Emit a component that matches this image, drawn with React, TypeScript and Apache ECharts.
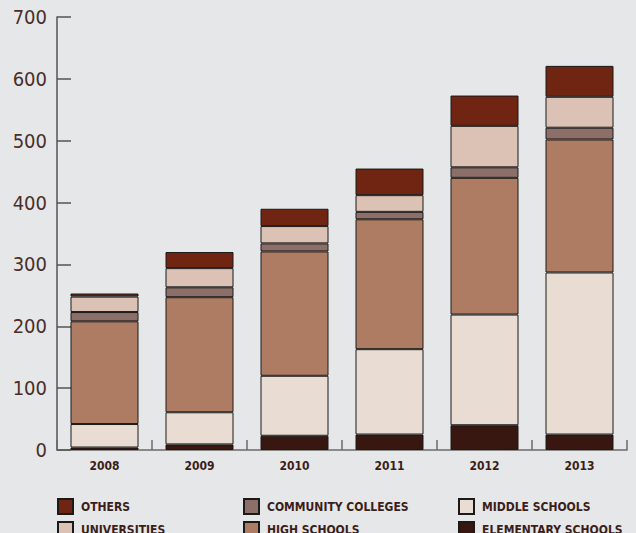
import React, { useEffect, useRef } from "react";
import * as echarts from "echarts";

const years = ["2008", "2009", "2010", "2011", "2012", "2013"];
const elementarySchools = [4, 9, 23, 25, 40, 25];
const middleSchools = [38, 52, 97, 138, 179, 262];
const highSchools = [166, 186, 201, 210, 221, 215];
const communityColleges = [15, 16, 13, 12, 17, 19];
const universities = [25, 31, 28, 27, 67, 50];
const others = [5, 26, 28, 43, 49, 50];
const yTicks = [0, 100, 200, 300, 400, 500, 600, 700];

const seriesDefs = [
  { name: "ELEMENTARY SCHOOLS", data: elementarySchools, color: "#37170f" },
  { name: "MIDDLE SCHOOLS", data: middleSchools, color: "#e8dcd3" },
  { name: "HIGH SCHOOLS", data: highSchools, color: "#ad7c63" },
  { name: "COMMUNITY COLLEGES", data: communityColleges, color: "#8b6f68" },
  { name: "UNIVERSITIES", data: universities, color: "#dbc2b4" },
  { name: "OTHERS", data: others, color: "#6f2512" },
];

const legendLayout = [
  { name: "OTHERS", left: 57, top: 498 },
  { name: "COMMUNITY COLLEGES", left: 243, top: 498 },
  { name: "MIDDLE SCHOOLS", left: 458, top: 498 },
  { name: "UNIVERSITIES", left: 57, top: 521 },
  { name: "HIGH SCHOOLS", left: 243, top: 521 },
  { name: "ELEMENTARY SCHOOLS", left: 458, top: 521 },
];

export default function App() {
  const ref = useRef<HTMLDivElement>(null);
  useEffect(() => {
    document.body.style.margin = "0";
    const chart = echarts.init(ref.current!, undefined, { renderer: "svg" });
    chart.setOption({
      animation: false,
      backgroundColor: "#e6e7e9",
      grid: { left: 57, right: 9, top: 17, bottom: 83 },
      xAxis: {
        type: "category",
        data: years,
        axisLine: { lineStyle: { color: "#6b6b6b", width: 1.5 } },
        axisTick: { show: true, inside: true, length: 10, lineStyle: { color: "#6b6b6b", width: 1.5 } },
        axisLabel: {
          margin: 10,
          color: "#3b1e18",
          fontFamily: "DejaVu Sans Condensed",
          fontWeight: "bold",
          fontSize: 12,
        },
      },
      yAxis: {
        type: "value",
        min: yTicks[0],
        max: yTicks[yTicks.length - 1],
        interval: 100,
        splitLine: { show: false },
        axisLine: { show: true, lineStyle: { color: "#555555", width: 1.5 } },
        axisTick: { show: true, inside: true, length: 14, lineStyle: { color: "#555555", width: 1.5 } },
        axisLabel: {
          margin: 10,
          color: "#4a2e2a",
          fontFamily: "DejaVu Sans Condensed",
          fontSize: 20,
        },
      },
      legend: legendLayout.map((l) => ({
        data: [l.name],
        left: l.left,
        top: l.top,
        padding: 0,
        itemWidth: 15,
        itemHeight: 15,
        icon: "rect",
        textStyle: {
          color: "#3b1e18",
          fontFamily: "DejaVu Sans Condensed",
          fontWeight: "bold",
          fontSize: 12,
          padding: [0, 0, 0, 3],
        },
        selectedMode: false,
      })),
      series: seriesDefs.map((s) => ({
        name: s.name,
        type: "bar",
        stack: "total",
        data: s.data,
        barWidth: 68,
        itemStyle: { color: s.color, borderColor: "#1a1a1a", borderWidth: 1 },
      })),
    });
    return () => chart.dispose();
  }, []);
  return <div ref={ref} style={{ width: 636, height: 533 }} />;
}
